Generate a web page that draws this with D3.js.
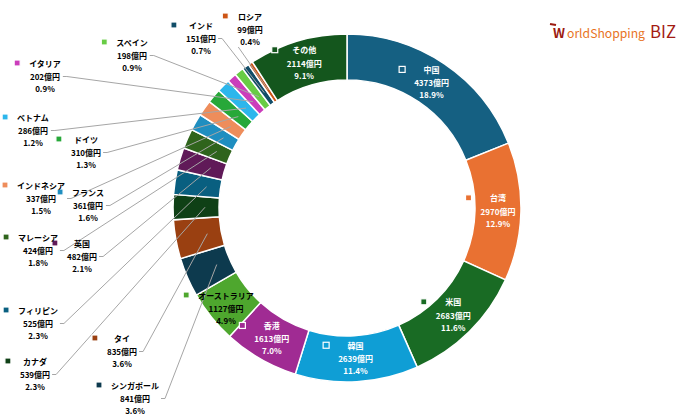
<!DOCTYPE html>
<html>
<head>
<meta charset="utf-8">
<script src="https://cdn.jsdelivr.net/npm/d3@7"></script>
<style>
  body { margin: 0; background: #fff; }
  text { font-family: "Noto Sans CJK JP", "Noto Sans", sans-serif; }
</style>
</head>
<body>
<svg></svg>
<script>
const w = 680;
const h = 419;
const svg = d3.select('svg').attr('width', w).attr('height', h);

// data (億円)
const categories = ['中国', '台湾', '米国', '韓国', '香港', 'オーストラリア', 'シンガポール', 'タイ',
  'カナダ', 'フィリピン', '英国', 'マレーシア', 'フランス', 'インドネシア', 'ドイツ', 'ベトナム',
  'イタリア', 'スペイン', 'インド', 'ロシア', 'その他'];
const values = [4373, 2970, 2683, 2639, 1613, 1127, 841, 835, 539, 525, 482, 424, 361, 337, 310, 286,
  202, 198, 151, 99, 2114];
const colors = ['#156082', '#E97132', '#196B24', '#0F9ED5', '#A02B93', '#4EA72E',
  '#0D3A4E', '#9A4011', '#0F4016', '#095F80', '#601A58', '#2F641C',
  '#1F8EC0', '#EE8D5B', '#27A839', '#2CB6EC', '#CB3DBB', '#68CC45',
  '#114D68', '#CD5516', '#14561D'];

// labels placed outside the ring: [centre x, name line y]
const outsideLabels = {
  'ロシア': [250, 16], 'インド': [201, 25], 'スペイン': [132, 42], 'イタリア': [45, 63],
  'ベトナム': [33, 117], 'ドイツ': [86, 139], 'インドネシア': [41, 185], 'フランス': [88, 192],
  'マレーシア': [38, 237], '英国': [82, 243], 'フィリピン': [38, 310], 'カナダ': [35, 361],
  'タイ': [122, 338], 'シンガポール': [135, 385], 'オーストラリア': [226, 295]
};
const whiteText = ['中国', '台湾', '米国', '韓国', '香港', 'その他'];

const cx = 347, cy = 208;
const outerR = 174, innerR = 128;
const total = d3.sum(values);
const pct = d3.format('.1f');

const pie = d3.pie().sort(null).value((d) => d.value);
const arc = d3.arc().innerRadius(innerR).outerRadius(outerR);
const lineArc = d3.arc().innerRadius(142).outerRadius(142);

const data = categories.map((c, i) => ({ name: c, value: values[i], color: colors[i] }));
const arcs = pie(data);

const g = svg.append('g').attr('transform', `translate(${cx},${cy})`);
g.selectAll('path')
  .data(arcs)
  .enter()
  .append('path')
  .attr('d', arc)
  .attr('fill', (d) => d.data.color)
  .attr('stroke', '#fff')
  .attr('stroke-width', 1.5);

const lines = svg.append('g');
const labels = svg.append('g');

arcs.forEach((a) => {
  const d = a.data;
  let x, y;
  if (outsideLabels[d.name]) {
    [x, y] = outsideLabels[d.name];
  } else {
    const c = arc.centroid(a);
    x = cx + c[0];
    y = cy + c[1] - 13.5;
  }
  const fill = whiteText.includes(d.name) ? '#fff' : '#000';
  const lg = labels.append('g');
  const texts = [d.name, d.value + '億円', pct((d.value / total) * 100) + '%'];
  const offs = [0, 13.5, 25.5];
  let maxW = 0;
  texts.forEach((t, i) => {
    const tx = lg.append('text')
      .attr('x', x)
      .attr('y', y + offs[i])
      .attr('text-anchor', 'middle')
      .attr('dominant-baseline', 'central')
      .attr('font-size', 8)
      .attr('font-weight', 'bold')
      .attr('fill', fill)
      .text(t);
    maxW = Math.max(maxW, tx.node().getComputedTextLength());
  });
  const left = x - maxW / 2;
  const right = x + maxW / 2;
  lg.append('rect')
    .attr('x', left - 15)
    .attr('y', y - 3)
    .attr('width', 6)
    .attr('height', 6)
    .attr('fill', d.color)
    .attr('stroke', '#fff')
    .attr('stroke-width', 1.2);

  if (outsideLabels[d.name] && d.name !== 'オーストラリア') {
    const p = lineArc.centroid(a);
    const end = [cx + p[0], cy + p[1]];
    let pts;
    if (d.name === 'ロシア') {
      pts = [[left + 1, y + 31], end];
    } else {
      pts = [[right + 2, y + 13.5], [right + 6, y + 13.5], end];
    }
    lines.append('path')
      .attr('d', d3.line()(pts))
      .attr('fill', 'none')
      .attr('stroke', '#a6a6a6')
      .attr('stroke-width', 1);
  }
});

// logo: each part sized to fit its width
function fitText(txt, x0, width, family, weight, color) {
  const t = svg.append('text')
    .attr('x', x0).attr('y', 38)
    .attr('font-family', family)
    .attr('font-weight', weight)
    .attr('font-size', 15)
    .attr('fill', color)
    .text(txt);
  const len = t.node().getComputedTextLength();
  t.attr('font-size', 15 * width / len);
}
svg.append('path')
  .attr('d', 'M550,24 L556,25')
  .attr('stroke', '#9c1a10').attr('stroke-width', 2);
fitText('W', 553, 12, 'Liberation Sans', 'bold', '#9c1a10');
fitText('orldShopping', 567, 78, 'Liberation Sans', 'normal', '#e8731e');
fitText('BIZ', 650, 26, 'Liberation Serif', 'normal', '#a31b12');
</script>
</body>
</html>
